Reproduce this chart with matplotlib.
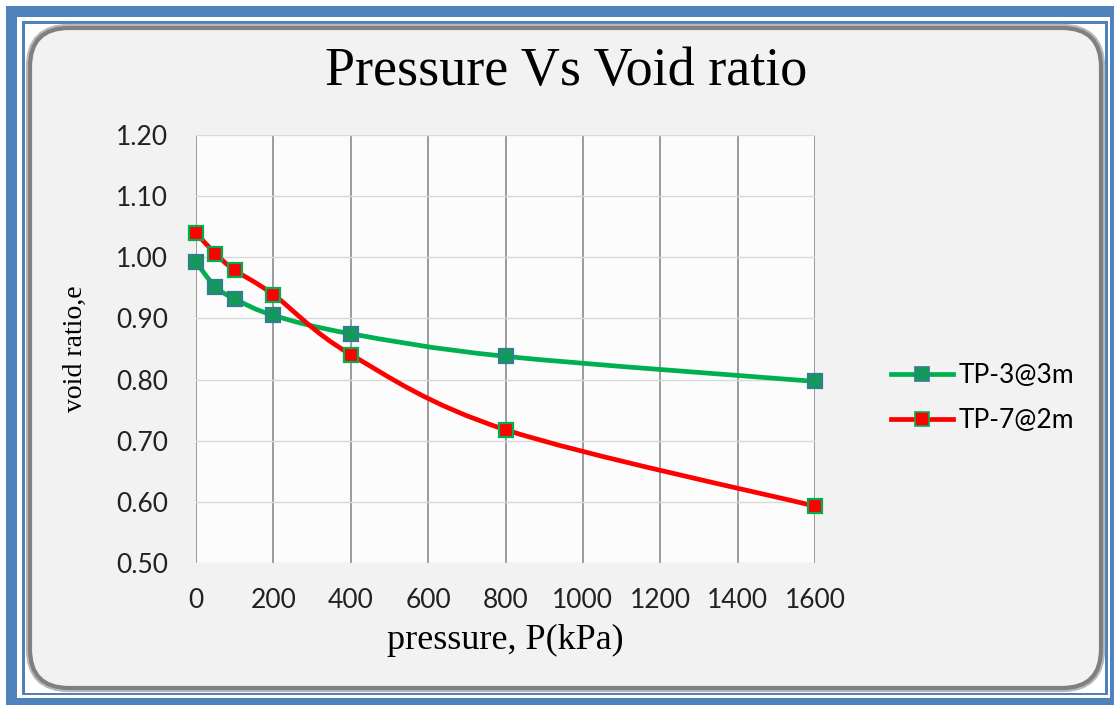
import matplotlib.pyplot as plt
from matplotlib.patches import Rectangle, FancyBboxPatch, PathPatch
from matplotlib.path import Path
from matplotlib.lines import Line2D

# Oedometer test results
pressure = [0, 50, 100, 200, 400, 800, 1600]
void_tp3 = [0.992, 0.952, 0.932, 0.905, 0.875, 0.838, 0.797]
void_tp7 = [1.040, 1.006, 0.979, 0.939, 0.841, 0.718, 0.593]
labels = ["TP-3@3m", "TP-7@2m"]

W, H = 1114, 705
BLUE = "#4F81BD"


def box(x0, y0, x1, y1):
    # pixel box (top-left origin) -> figure fraction (x, y, w, h)
    return x0 / W, 1 - y1 / H, (x1 - x0) / W, (y1 - y0) / H


def smooth_path(xs, ys):
    # Catmull-Rom style smoothing through the data points, as cubic Beziers
    pts = list(zip(xs, ys))
    n = len(pts)
    verts = [pts[0]]
    codes = [Path.MOVETO]
    for i in range(n - 1):
        p0 = pts[max(i - 1, 0)]
        p1 = pts[i]
        p2 = pts[i + 1]
        p3 = pts[min(i + 2, n - 1)]
        c1 = (p1[0] + (p2[0] - p0[0]) / 6, p1[1] + (p2[1] - p0[1]) / 6)
        c2 = (p2[0] - (p3[0] - p1[0]) / 6, p2[1] - (p3[1] - p1[1]) / 6)
        verts += [c1, c2, p2]
        codes += [Path.CURVE4] * 3
    return Path(verts, codes)


fig = plt.figure(figsize=(W / 100, H / 100), dpi=100)
fig.patch.set_facecolor("white")

# double blue border around the chart
for (x0, y0, x1, y1), col in [((6, 6, 1114, 705), BLUE),
                              ((17, 17, 1110, 698), "white"),
                              ((22, 21, 1108, 695), BLUE),
                              ((25, 24, 1105, 693), "white")]:
    x, y, w, h = box(x0, y0, x1, y1)
    fig.add_artist(Rectangle((x, y), w, h, transform=fig.transFigure,
                             facecolor=col, edgecolor="none", zorder=-2))

# rounded chart area with a soft shadow edge
x, y, w, h = box(30, 28, 1101, 688)
for lw, col in [(6, "#b8b8b8"), (3, "#808080")]:
    fig.add_artist(FancyBboxPatch((x, y), w, h, transform=fig.transFigure,
                                  boxstyle="round,pad=0,rounding_size=0.035",
                                  mutation_aspect=W / H,
                                  facecolor="#F2F2F2", edgecolor=col,
                                  linewidth=lw, zorder=-1))

ax = fig.add_axes(box(196, 135, 815, 563))
ax.set_zorder(2)
ax.set_facecolor("#FCFCFC")
ax.set_xlim(0, 1600)
ax.set_ylim(0.5, 1.2)
ax.set_xticks(range(0, 1601, 200))
ax.set_yticks([0.5 + 0.1 * i for i in range(8)])
ax.set_yticklabels([f"{0.5 + 0.1 * i:.2f}" for i in range(8)])

ax.xaxis.grid(True, color="#8A8A8A", linewidth=1.2)
ax.yaxis.grid(True, color="#D9D9D9", linewidth=1.0)
ax.set_axisbelow(True)
for s in ax.spines.values():
    s.set_visible(False)
ax.tick_params(length=0, labelsize=19, colors="#222222")
ax.tick_params(axis="y", pad=20)
ax.tick_params(axis="x", pad=18)
for t in ax.get_xticklabels() + ax.get_yticklabels():
    t.set_fontfamily("Lato")

series = [
    (void_tp3, "#00B050", "#139A5A", "#2F7F8F"),
    (void_tp7, "#FF0000", "#FF0000", "#00B050"),
]
handles = []
for vals, lc, fc, ec in series:
    ax.add_patch(PathPatch(smooth_path(pressure, vals), fill=False,
                           edgecolor=lc, linewidth=3.4, zorder=3,
                           capstyle="round", joinstyle="round"))
    ax.plot(pressure, vals, linestyle="none", marker="s", markersize=10,
            markerfacecolor=fc, markeredgecolor=ec, markeredgewidth=1.6,
            zorder=4, clip_on=False)
    handles.append(Line2D([], [], color=lc, linewidth=3.4, marker="s",
                          markersize=10, markerfacecolor=fc,
                          markeredgecolor=ec, markeredgewidth=1.2))

fig.legend(handles, labels, loc="center left",
           bbox_to_anchor=(867 / W, 1 - 398 / H), frameon=False,
           prop={"family": "Lato", "size": 19}, handlelength=2.35,
           handletextpad=0.23, labelspacing=0.75)

fig.text(566 / W, 1 - 72 / H, "Pressure Vs Void ratio", ha="center",
         va="center", fontsize=39, family="Liberation Serif")
fig.text(75 / W, 1 - 349 / H, "void ratio,e", ha="center", va="center",
         rotation=90, fontsize=20, family="Liberation Serif")
fig.text(505 / W, 1 - 640 / H, "pressure, P(kPa)", ha="center",
         va="center", fontsize=26, family="Liberation Serif")

fig.savefig("out.png", dpi=100)
